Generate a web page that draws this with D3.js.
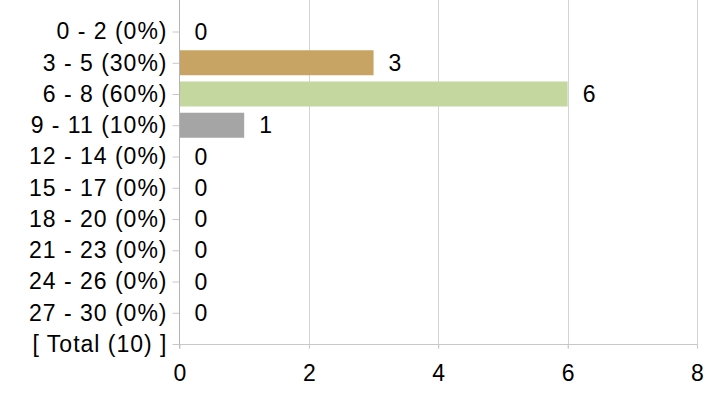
<!DOCTYPE html>
<html><head><meta charset="utf-8">
<script src="https://cdn.jsdelivr.net/npm/d3@7"></script>
<style>
body{margin:0;background:#fff;}
svg{display:block;font-family:"Liberation Sans",Arial,sans-serif;}
</style></head>
<body><svg id="c" width="712" height="396"></svg>
<script>
const categories = ["0 - 2 (0%)","3 - 5 (30%)","6 - 8 (60%)","9 - 11 (10%)","12 - 14 (0%)","15 - 17 (0%)","18 - 20 (0%)","21 - 23 (0%)","24 - 26 (0%)","27 - 30 (0%)","[ Total (10) ]"];
const values = [0,3,6,1,0,0,0,0,0,0,null];
const colors = ["#c8a464","#c8a464","#c4d79f","#a5a5a5","#a5a5a5","#a5a5a5","#a5a5a5","#a5a5a5","#a5a5a5","#a5a5a5","#a5a5a5"];
const xTicks = [0,2,4,6,8];

const svg = d3.select("#c");
const left = 179.5, right = 697, axisY = 344.5;
const FS = 23;
const x = d3.scaleLinear().domain([0,8]).range([left,right]);
const y = d3.scalePoint().domain(categories).range([31.5,344]);

// grid
svg.append("g").selectAll("line").data(xTicks.slice(1)).join("line")
  .attr("x1",d=>Math.round(x(d))+0.5).attr("x2",d=>Math.round(x(d))+0.5)
  .attr("y1",0).attr("y2",axisY+4).attr("stroke","#d4d4d4").attr("stroke-width",1);

// bars
const data = categories.map((c,i)=>({c,v:values[i],col:colors[i]})).filter(d=>d.v!==null);
svg.append("g").selectAll("rect").data(data.filter(d=>d.v>0)).join("rect")
  .attr("x",x(0)).attr("y",d=>y(d.c)-12.5).attr("width",d=>x(d.v)-x(0)).attr("height",25)
  .attr("fill",d=>d.col);

// value labels
svg.append("g").selectAll("text").data(data).join("text")
  .attr("x",d=>x(d.v)+15).attr("y",d=>y(d.c)).attr("dy","0.35em")
  .attr("font-size",FS).attr("fill","#000").text(d=>d.v);

// left axis
const ya = svg.append("g").attr("transform",`translate(${left},0)`)
  .call(d3.axisLeft(y).tickSize(7).tickPadding(5));
ya.select(".domain").remove();
ya.selectAll(".tick line").attr("stroke","#c8c8c8");
ya.selectAll(".tick text").attr("font-size",FS).attr("fill","#000")
  .attr("letter-spacing","1px").attr("font-family","Liberation Sans, Arial, sans-serif");
svg.append("line").attr("x1",left).attr("x2",left).attr("y1",0).attr("y2",axisY+4).attr("stroke","#b4b4b4");

// bottom axis
const xa = svg.append("g").attr("transform",`translate(0,${axisY})`)
  .call(d3.axisBottom(x).tickValues(xTicks).tickSize(4).tickPadding(16).tickFormat(d3.format("d")));
xa.select(".domain").attr("stroke","#c8c8c8").attr("d",`M${left},0H${right}`);
xa.selectAll(".tick line").attr("stroke","#c8c8c8");
xa.selectAll(".tick text").attr("font-size",FS).attr("fill","#000").attr("font-family","Liberation Sans, Arial, sans-serif");
</script></body></html>
